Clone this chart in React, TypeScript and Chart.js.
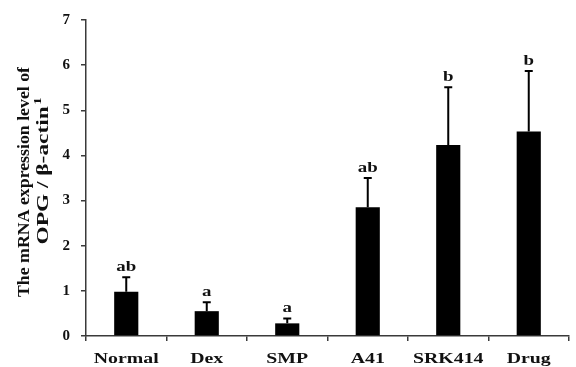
import React, { useEffect, useRef } from "react";
import { Chart, registerables } from "chart.js";

Chart.register(...registerables);

const categories = ["Normal", "Dex", "SMP", "A41", "SRK414", "Drug"];
const means = [0.98, 0.55, 0.28, 2.85, 4.23, 4.53];
const upperErrors = [0.32, 0.2, 0.11, 0.65, 1.28, 1.34];
const groupLetters = ["ab", "a", "a", "ab", "b", "b"];
const yTickValues = [0, 1, 2, 3, 4, 5, 6, 7];

const SERIF = "'Liberation Serif'";
const AXIS_COLOR = "#3a3a3a";

// draws text centred on (cx, cy), stretched along its own axis to a given length
function drawFitted(ctx: CanvasRenderingContext2D, text: string, cx: number, cy: number, length: number, angle: number) {
  const w = ctx.measureText(text).width;
  ctx.save();
  ctx.translate(cx, cy);
  ctx.rotate(angle);
  ctx.scale(length / w, 1);
  ctx.textAlign = "center";
  ctx.textBaseline = "middle";
  ctx.fillText(text, 0, 0);
  ctx.restore();
}

const annotations = {
  id: "annotations",
  afterDatasetsDraw(chart: any) {
    const { ctx } = chart;
    const y = chart.scales.y;
    const meta = chart.getDatasetMeta(0);
    ctx.save();
    // upper error bars
    ctx.strokeStyle = "#000";
    ctx.lineWidth = 2;
    meta.data.forEach((bar: any, i: number) => {
      const top = y.getPixelForValue(means[i] + upperErrors[i]);
      const base = y.getPixelForValue(means[i]);
      ctx.beginPath();
      ctx.moveTo(bar.x, base);
      ctx.lineTo(bar.x, top);
      ctx.moveTo(bar.x - 4, top);
      ctx.lineTo(bar.x + 4, top);
      ctx.stroke();
    });
    // significance letters
    ctx.fillStyle = "#111";
    ctx.font = `bold 14px ${SERIF}`;
    ctx.textAlign = "center";
    ctx.textBaseline = "alphabetic";
    meta.data.forEach((bar: any, i: number) => {
      const top = y.getPixelForValue(means[i] + upperErrors[i]);
      ctx.save();
      ctx.translate(bar.x, top - 6);
      ctx.scale(1.35, 1);
      ctx.fillText(groupLetters[i], 0, 0);
      ctx.restore();
    });
    ctx.restore();
  },
  afterDraw(chart: any) {
    const { ctx } = chart;
    const x = chart.scales.x;
    ctx.save();
    ctx.fillStyle = "#111";
    // category labels
    ctx.font = `bold 15px ${SERIF}`;
    ctx.textAlign = "center";
    ctx.textBaseline = "alphabetic";
    const sx = 65 / ctx.measureText(categories[0]).width;
    categories.forEach((c, i) => {
      ctx.save();
      ctx.translate(x.getPixelForValue(i), 363);
      ctx.scale(sx, 1);
      ctx.fillText(c, 0, 0);
      ctx.restore();
    });

    // rotated y-axis title, two lines
    ctx.font = `bold 16px ${SERIF}`;
    drawFitted(ctx, "The mRNA expression level of", 25, 182, 230, -Math.PI / 2);

    const line2 = "OPG / \u03B2-actin";
    const w2 = ctx.measureText(line2).width;
    ctx.font = `bold 10px ${SERIF}`;
    const w3 = ctx.measureText("1").width;
    const total = w2 + w3 + 1;
    const k = 147 / total;
    ctx.save();
    ctx.translate(44, 171);
    ctx.rotate(-Math.PI / 2);
    ctx.scale(k, 1);
    ctx.textAlign = "left";
    ctx.textBaseline = "middle";
    const start = -total / 2;
    ctx.font = `bold 16px ${SERIF}`;
    ctx.fillText(line2, start, 0);
    ctx.font = `bold 10px ${SERIF}`;
    ctx.fillText("1", start + w2 + 1, -6);
    ctx.restore();
    ctx.restore();
  },
};

export default function App() {
  const canvasRef = useRef<HTMLCanvasElement | null>(null);

  useEffect(() => {
    if (!canvasRef.current) return;
    const chart = new Chart(canvasRef.current, {
      type: "bar",
      data: {
        labels: categories,
        datasets: [
          {
            data: means,
            backgroundColor: "#000",
            borderWidth: 0,
            barPercentage: 0.3,
            categoryPercentage: 1,
          },
        ],
      },
      options: {
        responsive: false,
        animation: false,
        layout: { padding: { top: 16, right: 7, left: 0, bottom: 0 } },
        plugins: {
          legend: { display: false },
          tooltip: { enabled: false },
        },
        scales: {
          x: {
            offset: true,
            grid: {
              offset: true,
              drawOnChartArea: false,
              drawTicks: true,
              tickLength: 5,
              color: AXIS_COLOR,
              lineWidth: 1.5,
            },
            border: { color: AXIS_COLOR, width: 1.5 },
            ticks: { display: false },
            afterFit(scale: any) {
              scale.height = 31;
            },
          },
          y: {
            min: 0,
            max: 7,
            afterBuildTicks(scale: any) {
              scale.ticks = yTickValues.map((v) => ({ value: v }));
            },
            grid: {
              drawOnChartArea: false,
              drawTicks: true,
              tickLength: 5,
              color: AXIS_COLOR,
              lineWidth: 1.5,
            },
            border: { color: AXIS_COLOR, width: 1.5 },
            ticks: {
              padding: 11,
              color: "#111",
              font: { family: "Liberation Serif", size: 15, weight: "bold" },
            },
            afterFit(scale: any) {
              scale.width = 86;
            },
          },
        },
      },
      plugins: [annotations],
    });
    return () => chart.destroy();
  }, []);

  return (
    <div style={{ position: "absolute", left: 0, top: 0, width: 576, height: 367, background: "#fff" }}>
      <canvas ref={canvasRef} width={576} height={367} style={{ display: "block" }} />
    </div>
  );
}
